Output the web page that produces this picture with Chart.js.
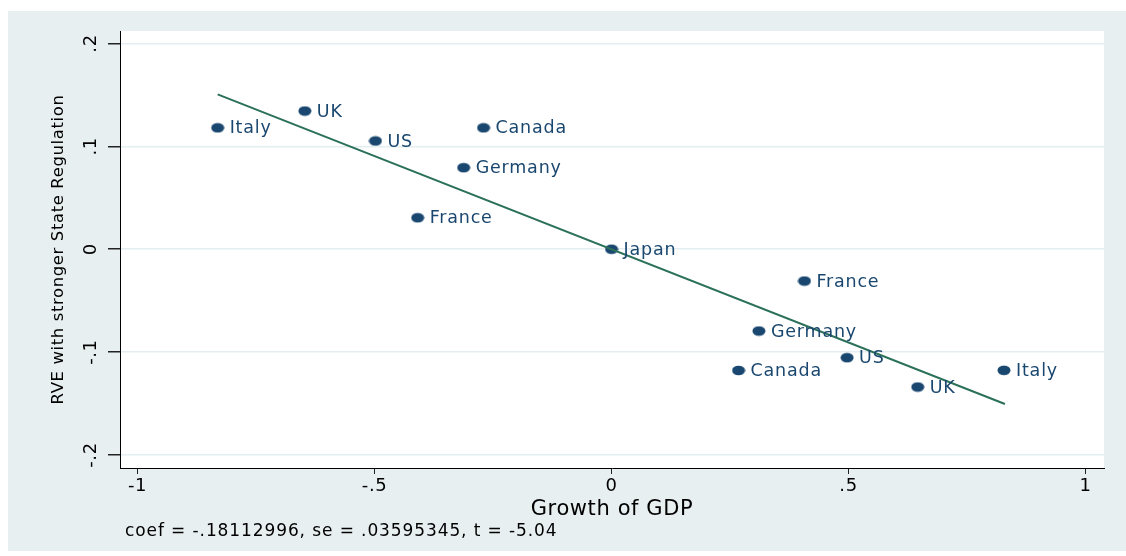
<!DOCTYPE html>
<html>
<head>
<meta charset="utf-8">
<script src="https://cdn.jsdelivr.net/npm/chart.js@4"></script>
<style>
    body { margin: 0; background: #ffffff; }
    #wrap { width: 1126px; height: 556px; position: relative; }
</style>
</head>
<body>
<div id="wrap"><canvas id="gdpChart"></canvas></div>
<script>
// country labels, one per point (each country appears twice)
const countries = ['Italy', 'UK', 'US', 'Canada', 'Germany', 'France', 'Japan',
    'France', 'Germany', 'Canada', 'US', 'UK', 'Italy'];
const growth = [-0.831, -0.647, -0.498, -0.270, -0.312, -0.409, 0,
    0.407, 0.311, 0.268, 0.497, 0.646, 0.828];
const regulation = [0.118, 0.1343, 0.1052, 0.118, 0.0792, 0.0306, 0,
    -0.0309, -0.0795, -0.1178, -0.1054, -0.1339, -0.1177];

// fitted line end points
const fitGrowth = [-0.831, 0.830];
const fitRegulation = [0.1505, -0.1504];

const xTicks = [-1, -0.5, 0, 0.5, 1];
const yTicks = [-0.2, -0.1, 0, 0.1, 0.2];
const noteText = 'coef = -.18112996, se = .03595345, t = -5.04';

const FONT = '"DejaVu Sans", "Liberation Sans", sans-serif';
const NAVY = '#1a476f';

document.addEventListener('DOMContentLoaded', function () {
    renderChart();
});

// stata style numbers: .5 instead of 0.5
function stataLabel(v) {
    if (v === 0) return '0';
    return String(v).replace('0.', '.');
}

// slightly wide oval marker like the reference
function makeMarker() {
    const c = document.createElement('canvas');
    c.width = 14;
    c.height = 11;
    const g = c.getContext('2d');
    g.fillStyle = NAVY;
    g.beginPath();
    g.ellipse(7, 5.5, 6.5, 4.8, 0, 0, Math.PI * 2);
    g.fill();
    return c;
}

const backdrop = {
    id: 'backdrop',
    beforeDraw(chart) {
        const ctx = chart.ctx;
        const a = chart.chartArea;
        ctx.save();
        ctx.fillStyle = '#e8eff1';
        ctx.fillRect(8, 11, chart.width - 8, 540);
        ctx.fillStyle = '#ffffff';
        ctx.fillRect(a.left, a.top, a.right - a.left, a.bottom - a.top);
        ctx.restore();
        // the reference text is set a little wide
        ctx.letterSpacing = '0.6px';
    }
};

const pointLabels = {
    id: 'pointLabels',
    afterDatasetsDraw(chart) {
        const ctx = chart.ctx;
        const meta = chart.getDatasetMeta(1);
        ctx.save();
        ctx.font = '17.5px ' + FONT;
        ctx.letterSpacing = '0.8px';
        ctx.fillStyle = NAVY;
        ctx.textBaseline = 'middle';
        meta.data.forEach(function (pt, i) {
            ctx.fillText(countries[i], pt.x + 12, pt.y + 1);
        });
        ctx.restore();
    }
};

const note = {
    id: 'note',
    afterDraw(chart) {
        const ctx = chart.ctx;
        ctx.save();
        ctx.font = '17px ' + FONT;
        ctx.letterSpacing = '0.9px';
        ctx.fillStyle = '#000000';
        ctx.textBaseline = 'middle';
        ctx.fillText(noteText, chart.chartArea.left + 5, 532);
        ctx.restore();
    }
};

function renderChart() {
    const ctx = document.getElementById('gdpChart').getContext('2d');
    new Chart(ctx, {
        data: {
            datasets: [{
                type: 'line',
                data: fitGrowth.map((x, i) => ({ x: x, y: fitRegulation[i] })),
                borderColor: '#2b7159',
                borderWidth: 2,
                pointRadius: 0,
                fill: false,
                order: 0
            }, {
                type: 'scatter',
                data: growth.map((x, i) => ({ x: x, y: regulation[i] })),
                pointStyle: makeMarker(),
                backgroundColor: NAVY,
                borderColor: NAVY,
                order: 1
            }]
        },
        options: {
            responsive: true,
            maintainAspectRatio: false,
            animation: false,
            layout: { padding: { top: 31, right: 22, left: 0, bottom: 0 } },
            plugins: {
                legend: { display: false },
                tooltip: { enabled: false }
            },
            scales: {
                x: {
                    type: 'linear',
                    min: -1.037,
                    max: 1.039,
                    afterBuildTicks: s => { s.ticks = xTicks.map(v => ({ value: v })); },
                    afterFit: s => { s.height = 88; },
                    ticks: {
                        autoSkip: false,
                        color: '#000000',
                        font: { family: FONT, size: 18 },
                        padding: 2,
                        maxRotation: 0,
                        callback: v => stataLabel(v)
                    },
                    grid: { drawOnChartArea: false, tickLength: 6, tickColor: '#222222' },
                    border: { color: '#000000', width: 1 },
                    title: {
                        display: true,
                        text: 'Growth of GDP',
                        color: '#000000',
                        font: { family: FONT, size: 21 },
                        padding: { top: 0, bottom: 34 }
                    }
                },
                y: {
                    type: 'linear',
                    min: -0.2126,
                    max: 0.2121,
                    afterBuildTicks: s => { s.ticks = yTicks.map(v => ({ value: v })); },
                    afterFit: s => { s.width = 120; },
                    ticks: {
                        autoSkip: false,
                        color: '#000000',
                        font: { family: FONT, size: 18 },
                        minRotation: 90,
                        maxRotation: 90,
                        crossAlign: 'center',
                        padding: 5,
                        callback: v => stataLabel(v)
                    },
                    grid: { color: '#e4edf0', lineWidth: 1.5, tickLength: 12, tickColor: '#222222' },
                    border: { color: '#000000', width: 1 },
                    title: {
                        display: true,
                        text: 'RVE with stronger State Regulation',
                        color: '#000000',
                        font: { family: FONT, size: 16.5 },
                        padding: { top: 49, bottom: 0 }
                    }
                }
            }
        },
        plugins: [backdrop, pointLabels, note]
    });
}
</script>
</body>
</html>
